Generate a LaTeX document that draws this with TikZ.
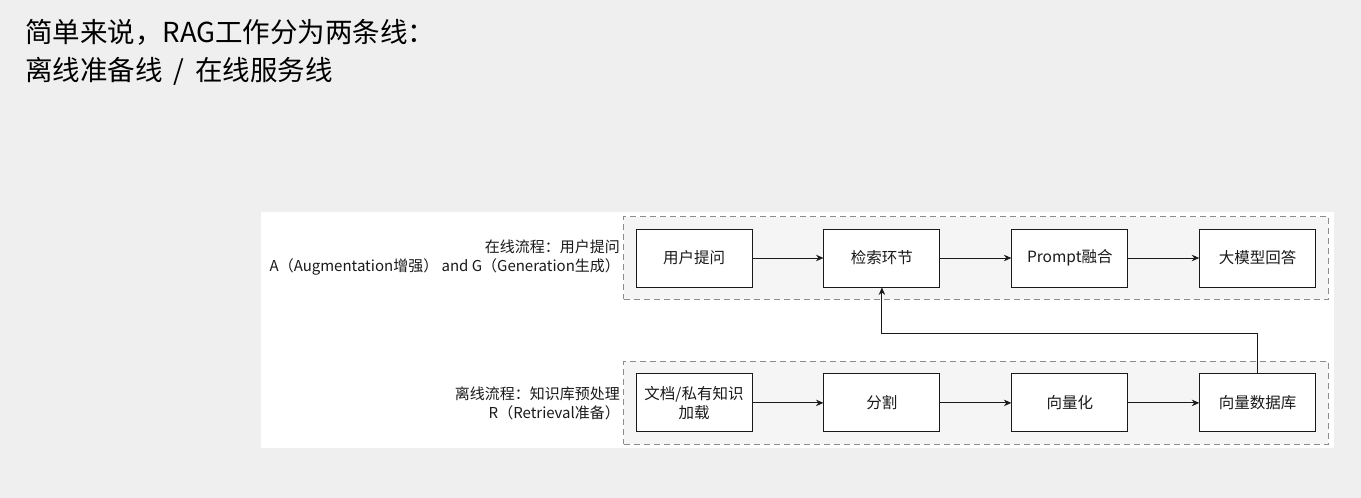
\documentclass[tikz,border=0pt]{standalone}
\usepackage{fontspec}
\setmainfont{Noto Sans CJK SC}
\usepackage{tikz}
\usetikzlibrary{positioning,arrows.meta,fit,backgrounds}
\definecolor{raggray}{HTML}{EFEFEF}
\definecolor{raglane}{HTML}{F5F5F5}
\definecolor{ragdash}{HTML}{8C8C8C}
\definecolor{raginkk}{HTML}{1A1A1A}
\tikzset{
    every edge/.style={draw,->,>={Stealth[length=7.5pt,width=6.5pt]},line width=0.9pt,raginkk},
    stage/.style={draw=raginkk,fill=white,line width=0.9pt,minimum width=116pt,minimum height=58pt,
        align=center,font=\fontsize{15.5}{19}\selectfont,text=raginkk,inner sep=2pt},
    lane/.style={draw=ragdash,fill=raglane,dash pattern=on 6pt off 4pt,line width=0.8pt,inner sep=12pt},
    lanelabel/.style={align=right,font=\fontsize{15}{19}\selectfont,text=raginkk,inner sep=0pt},
    headline/.style={font=\fontsize{27.5}{32}\selectfont,text=black,inner sep=0pt,anchor=base west},
}
\begin{document}
\begin{tikzpicture}[x=1pt,y=1pt,node distance=71pt]
    \useasboundingbox (0,0) rectangle (1361,498);

    % heading
    \node[headline] (head1) at (25,455) {简单来说，RAG工作分为两条线：};
    \node[headline] (head2) at (25,417) {离线准备线\hspace{0.4em}/\hspace{0.4em}在线服务线};

    % online line
    \node[stage] (ask) at (694,240) {用户提问};
    \node[stage,right=of ask] (retr) {检索环节};
    \node[stage,right=of retr] (fuse) {Prompt融合};
    \node[stage,right=of fuse] (llm) {大模型回答};

    % offline line
    \node[stage,below=86pt of ask] (load) {文档/私有知识\\加载};
    \node[stage,right=of load] (split) {分割};
    \node[stage,right=of split] (embed) {向量化};
    \node[stage,right=of embed] (vdb) {向量数据库};

    \begin{scope}[on background layer]
        \fill[raggray] (0,0) rectangle (1361,498);
        \fill[white] (261,50) rectangle (1334,286);
        \node[lane,fit=(ask)(llm)] (online) {};
        \node[lane,fit=(load)(vdb)] (offline) {};
    \end{scope}

    \node[lanelabel,left=3pt of online] (onlinetxt) {在线流程：用户提问\\A（Augmentation增强） and G（Generation生成）};
    \node[lanelabel,left=3pt of offline] (offlinetxt) {离线流程：知识库预处理\\R（Retrieval准备）};

    \path
    (ask) edge (retr)
    (retr) edge (fuse)
    (fuse) edge (llm)
    (load) edge (split)
    (split) edge (embed)
    (embed) edge (vdb);
    \draw[->,>={Stealth[length=7.5pt,width=6.5pt]},line width=0.9pt,raginkk] (vdb.north) -- ++(0,40) -| (retr.south);
\end{tikzpicture}
\end{document}
